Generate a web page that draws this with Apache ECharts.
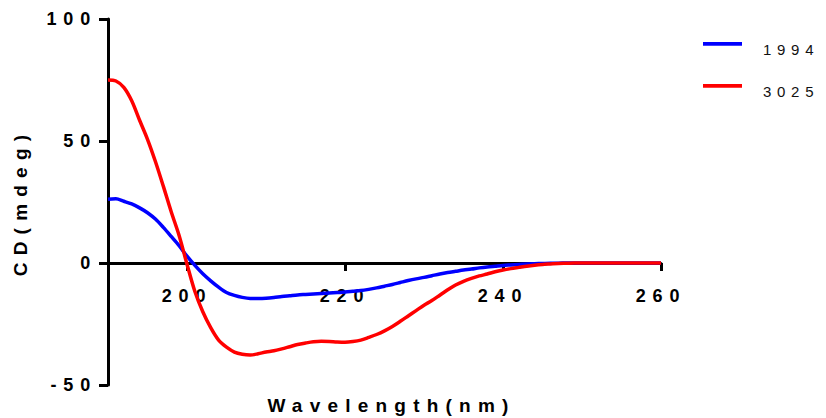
<!DOCTYPE html>
<html>
<head>
<meta charset="utf-8">
<script src="https://cdn.jsdelivr.net/npm/echarts@6/dist/echarts.min.js"></script>
<style>
  html, body { margin: 0; padding: 0; background: #fff; }
  #chart { width: 826px; height: 418px; }
  /* the original graph has wide letter spacing on every text */
  #chart text { letter-spacing: 0.38em; }
</style>
</head>
<body>
<div id="chart"></div>
<script>
var wavelength = [190, 191, 192, 193, 194, 195, 196, 197, 198, 199,
    200, 201, 202, 203, 204, 205, 206, 207, 208, 209,
    210, 211, 212, 213, 214, 215, 216, 217, 218, 219,
    220, 221, 222, 223, 224, 225, 226, 227, 228, 229,
    230, 231, 232, 233, 234, 235, 236, 237, 238, 239,
    240, 241, 242, 243, 244, 245, 246, 247, 248, 249,
    250, 252, 254, 256, 258, 260];

var cd1994 = [26.1, 26.3, 25.3, 24.2, 22.6, 20.6, 18, 14.6, 10.9, 7.1,
    2.8, -1, -4.4, -7.3, -9.9, -12.1, -13.3, -14.1, -14.5, -14.5,
    -14.4, -14.1, -13.7, -13.4, -13.1, -12.9, -12.7, -12.5, -12.3, -12.1,
    -11.9, -11.6, -11.3, -10.8, -10.2, -9.5, -8.8, -8, -7.2, -6.5,
    -5.9, -5.2, -4.5, -3.9, -3.4, -2.9, -2.5, -2, -1.6, -1.3,
    -1, -0.8, -0.6, -0.4, -0.3, -0.2, -0.1, -0.1, 0, 0,
    0, 0, 0, 0, 0, 0];

var cd3025 = [75, 74.6, 72, 66.5, 58.5, 50.7, 41.6, 31.5, 21, 11.3,
    -0.5, -11.7, -20, -26.5, -31.6, -34.5, -36.5, -37.4, -37.7, -37.2,
    -36.5, -36, -35.2, -34.3, -33.4, -32.8, -32.3, -32.1, -32.2, -32.4,
    -32.5, -32.2, -31.6, -30.5, -29.3, -27.8, -26, -23.9, -21.7, -19.5,
    -17.3, -15.4, -13.2, -11, -9, -7.5, -6.3, -5.3, -4.5, -3.6,
    -2.9, -2.3, -1.8, -1.3, -0.9, -0.6, -0.4, -0.2, -0.1, 0,
    0, 0, 0, 0, 0, 0];

var xTicks = [200, 220, 240, 260];
var seriesNames = ['1994', '3025'];
var colors = ['#0000ff', '#ff0000'];

function pairs(ys) {
    return wavelength.map(function (x, i) { return [x, ys[i]]; });
}

var font = 'Liberation Sans, Arial, sans-serif';

var myChart = echarts.init(document.getElementById('chart'), null, { renderer: 'svg' });

var option = {
    animation: false,
    color: colors,
    grid: {
        left: 108,
        right: 165,
        top: 19,
        bottom: 33,
        outerBoundsMode: 'none'
    },
    legend: {
        data: seriesNames,
        orient: 'vertical',
        left: 698,
        top: 37,
        // line sits above the text middle, like the original
        icon: 'path://M0,0H39V4H0Z M0,16',
        symbolKeepAspect: false,
        itemWidth: 39,
        itemHeight: 15,
        itemGap: 27,
        textStyle: {
            fontFamily: font,
            fontSize: 15,
            color: '#111',
            padding: [0, 0, 0, 16]
        }
    },
    xAxis: {
        type: 'value',
        min: 190,
        max: 260,
        position: 'bottom',
        offset: -122, // axis drawn at y = 0
        name: 'Wavelength(nm)',
        nameLocation: 'middle',
        nameGap: 133,
        nameTextStyle: {
            fontFamily: font,
            fontSize: 19,
            fontWeight: 'bold',
            color: '#000',
            padding: [0, 0, 0, 14]
        },
        splitLine: { show: false },
        axisLine: {
            onZero: false,
            lineStyle: { color: '#000', width: 3 }
        },
        axisTick: {
            customValues: xTicks,
            length: 8,
            lineStyle: { color: '#000', width: 3 }
        },
        axisLabel: {
            customValues: xTicks,
            margin: 24,
            fontFamily: font,
            fontSize: 18,
            fontWeight: 'bold',
            color: '#000'
        }
    },
    yAxis: {
        type: 'value',
        min: -50,
        max: 100,
        interval: 50,
        name: 'CD(mdeg)',
        nameLocation: 'middle',
        nameGap: 78,
        nameTextStyle: {
            fontFamily: font,
            fontSize: 19,
            fontWeight: 'bold',
            color: '#000'
        },
        splitLine: { show: false },
        axisLine: {
            show: true,
            onZero: false,
            lineStyle: { color: '#000', width: 3 }
        },
        axisTick: {
            show: true,
            length: 9,
            lineStyle: { color: '#000', width: 3 }
        },
        axisLabel: {
            margin: 11,
            fontFamily: font,
            fontSize: 18,
            fontWeight: 'bold',
            color: '#000'
        }
    },
    series: [
        {
            name: seriesNames[0],
            type: 'line',
            symbol: 'none',
            smooth: 0.3,
            lineStyle: { width: 3.5 },
            data: pairs(cd1994)
        },
        {
            name: seriesNames[1],
            type: 'line',
            symbol: 'none',
            smooth: 0.3,
            lineStyle: { width: 3.5 },
            data: pairs(cd3025)
        }
    ]
};

myChart.setOption(option);
</script>
</body>
</html>
